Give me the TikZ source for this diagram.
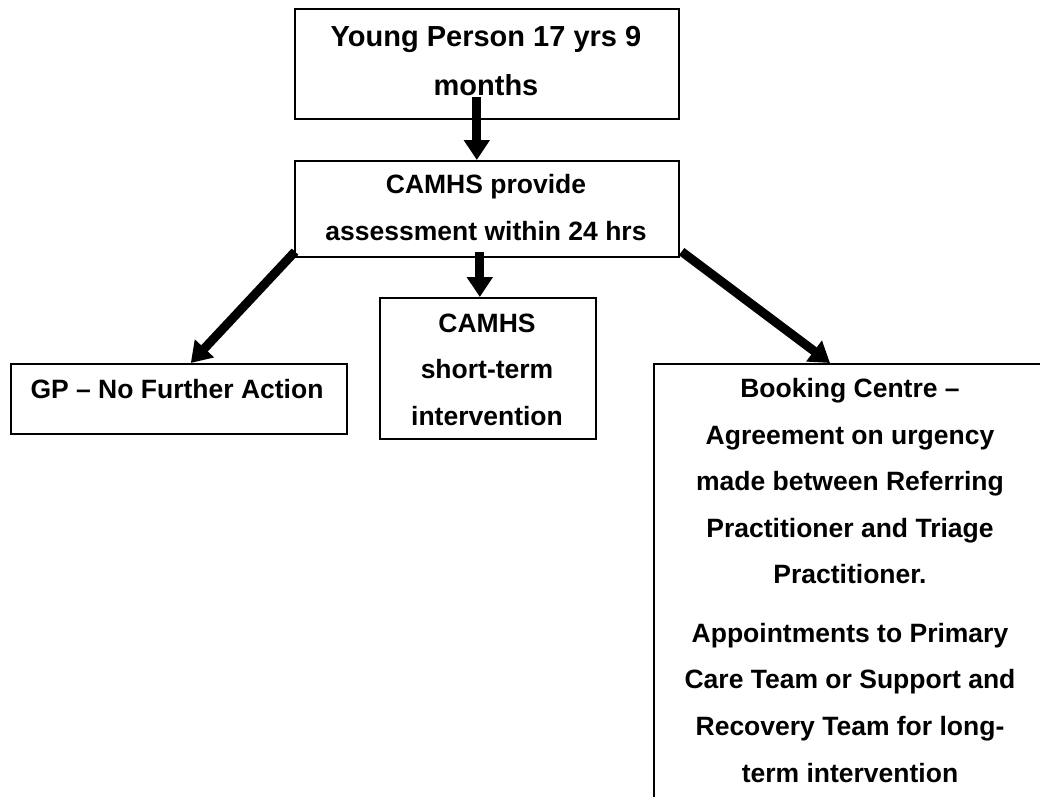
\documentclass[tikz,border=0pt]{standalone}
\usepackage{fontspec}
\setmainfont{Liberation Sans}
\usetikzlibrary{arrows.meta}
\begin{document}
\begin{tikzpicture}[x=1pt,y=-1pt,
  box/.style={draw, line width=1.6pt, inner sep=0pt, anchor=north west},
  bigline/.style={font=\fontsize{29}{49}\selectfont\bfseries, anchor=base, inner sep=0pt},
  txtline/.style={font=\fontsize{26.5}{47}\selectfont\bfseries, anchor=base, inner sep=0pt},
  flow/.style={line width=9pt, -{Triangle[width=25pt,length=20pt]}}]
\path[use as bounding box, clip] (0,0) rectangle (1040,796);

% boxes
\node[box, minimum width=384pt, minimum height=110pt] (young) at (294,8) {};
\node[box, minimum width=384pt, minimum height=96pt]  (camhs) at (294,160) {};
\node[box, minimum width=336pt, minimum height=70pt]  (gp)    at (10,363) {};
\node[box, minimum width=216pt, minimum height=141pt] (short) at (379,297) {};
\node[box, minimum width=394pt, minimum height=500pt] (book)  at (653,363) {};

% texts
\node[bigline] (young1) at (486,46) {Young Person 17 yrs 9};
\node[bigline] (young2) at (486,95) {months};

\node[txtline] (camhs1) at (486,193) {CAMHS provide};
\node[txtline] (camhs2) at (486,240.5) {assessment within 24 hrs};

\node[txtline] (gp1) at (177,398) {GP – No Further Action};

\node[txtline] (short1) at (487,332) {CAMHS};
\node[txtline] (short2) at (487,378.5) {short-term};
\node[txtline] (short3) at (487,425) {intervention};

\node[txtline] (book1) at (850,397) {Booking Centre –};
\node[txtline] (book2) at (850,444) {Agreement on urgency};
\node[txtline] (book3) at (850,490.5) {made between Referring};
\node[txtline] (book4) at (850,537) {Practitioner and Triage};
\node[txtline] (book5) at (850,583.5) {Practitioner.};
\node[txtline] (book6) at (850,642) {Appointments to Primary};
\node[txtline] (book7) at (850,688.5) {Care Team or Support and};
\node[txtline] (book8) at (850,735) {Recovery Team for long-};
\node[txtline] (book9) at (850,782) {term intervention};

% connectors
\draw[flow] ([xshift=-10pt,yshift=23pt]young.south) -- ([xshift=-10pt]camhs.north);
\draw[flow] ([xshift=1pt,yshift=6pt]camhs.south west) -- ([xshift=12pt]gp.north);
\draw[flow] ([xshift=-7pt,yshift=6pt]camhs.south) -- ([xshift=-8pt]short.north);
\draw[flow] ([xshift=2pt,yshift=6pt]camhs.south east) -- ([xshift=177pt]book.north west);
\end{tikzpicture}
\end{document}
